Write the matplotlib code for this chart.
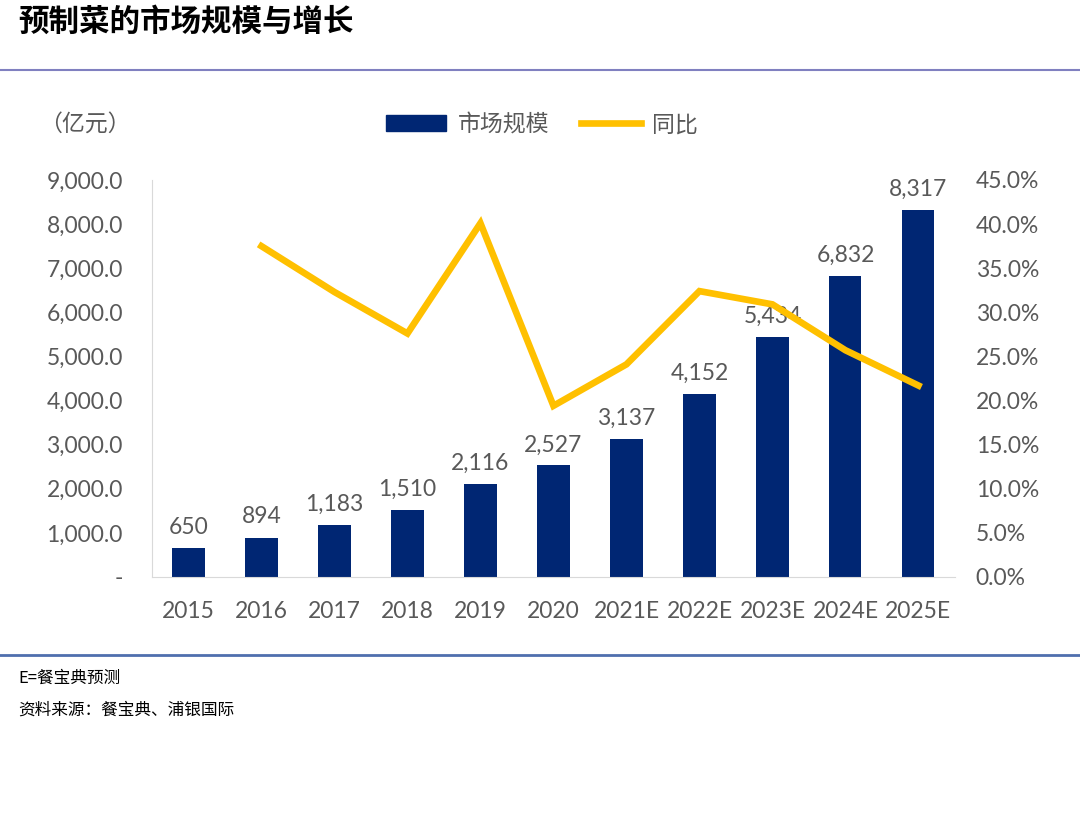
import numpy as np
import matplotlib.pyplot as plt
from matplotlib.ticker import FuncFormatter
from matplotlib.lines import Line2D
from matplotlib.patches import Patch

plt.rcParams['font.family'] = ['Lato', 'Noto Sans CJK SC', 'DejaVu Sans']

years = ['2015', '2016', '2017', '2018', '2019', '2020',
         '2021E', '2022E', '2023E', '2024E', '2025E']
market_size = [650, 894, 1183, 1510, 2116, 2527, 3137, 4152, 5434, 6832, 8317]
# 同比 (%), 2015 has no value
yoy = [np.nan, 37.5, 32.3, 27.6, 40.1, 19.4, 24.1, 32.4, 30.9, 25.7, 21.7]

navy = '#002673'
gold = '#FFC000'
grey = '#595959'

fig = plt.figure(figsize=(10.8, 8.34), dpi=100)
ax = fig.add_axes([0.1407, 0.3082, 0.7435, 0.476])
x = np.arange(len(years))
bars = ax.bar(x, market_size, width=0.44, color=navy, zorder=2)
for xi, v in zip(x, market_size):
    ax.text(xi, v + 230, f'{v:,}', ha='center', va='bottom', fontsize=16.5, color=grey)

ax.set_xlim(-0.5, len(years) - 0.5)
ax.set_ylim(0, 9000)
ax.set_yticks(np.arange(0, 9001, 1000))
ax.yaxis.set_major_formatter(FuncFormatter(lambda v, p: '-' if v == 0 else f'{v:,.1f}'))
ax.set_xticks(x)
ax.set_xticklabels(years)
ax.tick_params(axis='both', length=0, labelsize=16.5, labelcolor=grey)
ax.tick_params(axis='x', pad=17)
ax.tick_params(axis='y', pad=21)
for s in ['top', 'right']:
    ax.spines[s].set_visible(False)
ax.spines['left'].set_color('#d9d9d9')
ax.spines['bottom'].set_color('#d9d9d9')

ax2 = ax.twinx()
ax2.plot(x, yoy, color=gold, linewidth=4.8, solid_joinstyle='miter', zorder=3)
ax2.set_ylim(0, 45)
ax2.set_yticks(np.arange(0, 46, 5))
ax2.yaxis.set_major_formatter(FuncFormatter(lambda v, p: f'{v:.1f}%'))
ax2.tick_params(axis='y', length=0, labelsize=16.5, labelcolor=grey, pad=15)
for s in ['top', 'right', 'left', 'bottom']:
    ax2.spines[s].set_visible(False)

handles = [Patch(color=navy), Line2D([0], [0], color=gold, linewidth=4.8)]
fig.legend(handles, ['市场规模', '同比'], loc='center', bbox_to_anchor=(0.502, 0.851),
           ncol=2, frameon=False, fontsize=16.5, handlelength=2.6, columnspacing=1.4,
           handletextpad=0.5, labelcolor=grey)

fig.text(0.036, 0.851, '（亿元）', fontsize=16.5, color=grey, va='center', ha='left',
         family=['Noto Sans CJK SC'])

fig.text(0.017, 0.974, '预制菜的市场规模与增长', fontsize=22, fontweight='bold',
         va='center', ha='left', family=['Noto Sans CJK SC'])
fig.add_artist(Line2D([0, 1], [0.916, 0.916], color='#8080c0', linewidth=1.5))
fig.add_artist(Line2D([0, 1], [0.215, 0.215], color='#4f6fae', linewidth=2))

fig.text(0.017, 0.187, 'E=餐宝典预测', fontsize=12, va='center', ha='left',
         family=['Noto Sans CJK SC'])
fig.text(0.017, 0.149, '资料来源：餐宝典、浦银国际', fontsize=12, va='center', ha='left',
         family=['Noto Sans CJK SC'])

fig.savefig('out.png', dpi=100)
